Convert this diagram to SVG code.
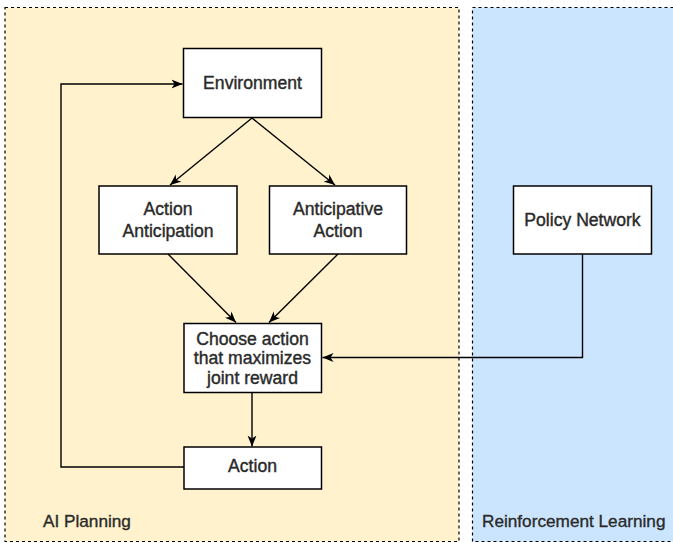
<svg xmlns="http://www.w3.org/2000/svg" width="673" height="543" viewBox="0 0 673 543">
<defs>
<style>
.panel{stroke:#000;stroke-width:1.2;stroke-dasharray:3,3}
.box{fill:#fff;stroke:#000;stroke-width:1.5}
.t{font-family:"Liberation Sans",Arial,sans-serif;font-size:17.6px;fill:#2a2a2a;stroke:#2a2a2a;stroke-width:0.4;text-anchor:middle}
.lbl{font-family:"Liberation Sans",Arial,sans-serif;font-size:17.2px;fill:#2a2a2a;stroke:#2a2a2a;stroke-width:0.35}
.c{fill:none;stroke:#000;stroke-width:1.4}
</style>
<marker id="ah" markerUnits="userSpaceOnUse" markerWidth="12" markerHeight="10" viewBox="0 0 12 10" refX="11" refY="5" orient="auto">
<path d="M0,0.5 L11,5 L0,9.5 L3,5 Z" fill="#000"/>
</marker>
</defs>
<rect width="673" height="543" fill="#fff"/>
<g id="ai-planning">
<rect class="panel" x="5" y="7.5" width="454" height="534" fill="#fff2cc"/>
<text class="lbl" x="43" y="527">AI Planning</text>
</g>
<g id="reinforcement-learning">
<rect class="panel" x="472.5" y="7.5" width="210" height="534" fill="#cce5ff"/>
<text class="lbl" x="482" y="527">Reinforcement Learning</text>
</g>
<g id="connectors">
<path class="c" d="M252,118 L170,185" marker-end="url(#ah)"/>
<path class="c" d="M252,118 L335,185" marker-end="url(#ah)"/>
<path class="c" d="M168,254 L236,322.5" marker-end="url(#ah)"/>
<path class="c" d="M338,254 L269,322.5" marker-end="url(#ah)"/>
<path class="c" d="M252,392 L252,446.5" marker-end="url(#ah)"/>
<path class="c" d="M184,467 L61,467 L61,84 L182.5,84" marker-end="url(#ah)"/>
<path class="c" d="M582.5,254 L582.5,357.5 L322.5,357.5" marker-end="url(#ah)"/>
</g>
<g id="environment">
<rect class="box" x="183.5" y="48.5" width="138" height="69"/>
<text class="t" x="252.5" y="88.5">Environment</text>
</g>
<g id="action-anticipation">
<rect class="box" x="99" y="186" width="138" height="68"/>
<text class="t" x="168" y="215">Action</text>
<text class="t" x="168" y="236.5">Anticipation</text>
</g>
<g id="anticipative-action">
<rect class="box" x="269.5" y="186" width="137" height="68"/>
<text class="t" x="338" y="215">Anticipative</text>
<text class="t" x="338" y="236.5">Action</text>
</g>
<g id="policy-network">
<rect class="box" x="513.5" y="186" width="138" height="68"/>
<text class="t" x="582.5" y="226">Policy Network</text>
</g>
<g id="choose-action">
<rect class="box" x="184" y="323.5" width="137.5" height="69"/>
<text class="t" x="252.5" y="344.5">Choose action</text>
<text class="t" x="252.5" y="364">that maximizes</text>
<text class="t" x="252.5" y="383.5">joint reward</text>
</g>
<g id="action">
<rect class="box" x="184" y="447" width="137.5" height="42"/>
<text class="t" x="252.5" y="472">Action</text>
</g>
</svg>
